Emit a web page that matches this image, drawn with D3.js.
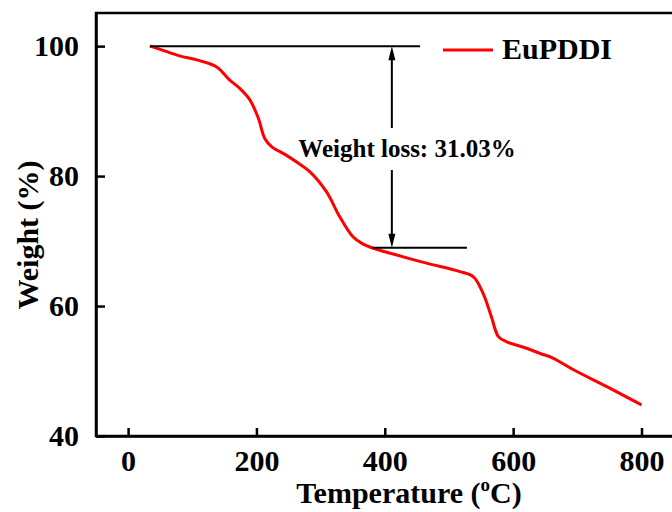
<!DOCTYPE html>
<html>
<head>
<meta charset="utf-8">
<script src="https://cdn.jsdelivr.net/npm/d3@7"></script>
<style>
  body { margin: 0; background: #fff; }
  text { font-family: "Liberation Serif", "Times New Roman", serif; font-weight: bold; }
</style>
</head>
<body>
<div class="chart"></div>
<script>
const w = 672;
const h = 512;
const margin = { top: 13, right: -8, bottom: 76, left: 96 };

// TGA curve
const temps = [34, 50, 80, 110, 138, 158, 174, 190, 203, 213, 224, 245, 265, 283, 309, 330, 350, 365,
  382, 413, 465, 517, 538, 553, 566, 577, 590, 621, 642, 662, 694, 746, 800];
const weights = [100, 99.5, 98.5, 97.8, 96.8, 94.8, 93.5, 91.7, 88.9, 85.8, 84.5, 83.3, 82.0, 80.7, 77.6,
  73.7, 70.7, 69.6, 68.9, 68.0, 66.6, 65.3, 64.5, 62.0, 58.4, 55.3, 54.5, 53.5, 52.7, 52.0, 50.2, 47.6, 44.8];

const xTicks = [0, 200, 400, 600, 800];
const yTicks = [40, 60, 80, 100];
const seriesName = 'EuPDDI';

// weight loss annotation
const lossTop = 100;
const lossBottom = 68.97;
const lossLabel = 'Weight loss: 31.03%';
const arrowTemp = 411;
const topLine = [34, 455];
const bottomLine = [381, 528];

const svg = d3.select('.chart').append('svg')
  .attr('width', w)
  .attr('height', h);

const xScale = d3.scaleLinear()
  .domain([-50, 860])
  .range([margin.left, w - margin.right]);

const yScale = d3.scaleLinear()
  .domain([40, 105.1])
  .range([h - margin.bottom, margin.top]);

// frame
svg.append('rect')
  .attr('x', margin.left)
  .attr('y', margin.top)
  .attr('width', w - margin.right - margin.left)
  .attr('height', h - margin.bottom - margin.top)
  .attr('fill', 'none')
  .attr('stroke', '#000')
  .attr('stroke-width', 2.5);

// Bottom axis
const xAxis = d3.axisBottom(xScale)
  .tickValues(xTicks)
  .tickSizeInner(-8)
  .tickSizeOuter(0)
  .tickPadding(14);
const gx = svg.append('g')
  .attr('transform', `translate(0,${h - margin.bottom})`)
  .call(xAxis);
gx.select('.domain').attr('stroke-width', 2.5);
gx.selectAll('.tick line').attr('stroke-width', 2.5);
gx.selectAll('.tick text')
  .attr('font-size', 30)
  .attr('fill', '#000')
  .attr('font-family', 'Liberation Serif')
  .attr('font-weight', 'bold');

// Left axis
const yAxis = d3.axisLeft(yScale)
  .tickValues(yTicks)
  .tickSizeInner(-9)
  .tickSizeOuter(0)
  .tickPadding(17);
const gy = svg.append('g')
  .attr('transform', `translate(${margin.left},0)`)
  .call(yAxis);
gy.select('.domain').attr('stroke-width', 2.5);
gy.selectAll('.tick line').attr('stroke-width', 2.5);
gy.selectAll('.tick text')
  .attr('font-size', 30)
  .attr('fill', '#000')
  .attr('font-family', 'Liberation Serif')
  .attr('font-weight', 'bold');

// axis titles
const xt = svg.append('text')
  .attr('x', 409)
  .attr('y', 503)
  .attr('text-anchor', 'middle')
  .attr('font-size', 30);
xt.append('tspan').text('Temperature (');
xt.append('tspan').attr('font-size', 19).attr('dy', -12).text('o');
xt.append('tspan').attr('dy', 12).text('C)');

svg.append('text')
  .attr('transform', 'translate(38,235) rotate(-90)')
  .attr('text-anchor', 'middle')
  .attr('font-size', 30)
  .text('Weight (%)');

// curve
const data = temps.map((t, i) => [t, weights[i]]);
const line = d3.line()
  .x((d) => xScale(d[0]))
  .y((d) => yScale(d[1]))
  .curve(d3.curveCatmullRom.alpha(0.5));

svg.append('path')
  .datum(data)
  .attr('d', line)
  .attr('fill', 'none')
  .attr('stroke', '#ff0000')
  .attr('stroke-width', 3)
  .attr('stroke-linejoin', 'round');

// annotation lines
svg.append('line')
  .attr('x1', xScale(topLine[0])).attr('x2', xScale(topLine[1]))
  .attr('y1', yScale(lossTop)).attr('y2', yScale(lossTop))
  .attr('stroke', '#000').attr('stroke-width', 2);
svg.append('line')
  .attr('x1', xScale(bottomLine[0])).attr('x2', xScale(bottomLine[1]))
  .attr('y1', yScale(lossBottom)).attr('y2', yScale(lossBottom))
  .attr('stroke', '#000').attr('stroke-width', 2);

const ax = xScale(arrowTemp);
const yTop = yScale(lossTop);
const yBot = yScale(lossBottom);
svg.append('line')
  .attr('x1', ax).attr('x2', ax)
  .attr('y1', yTop + 10).attr('y2', 128)
  .attr('stroke', '#000').attr('stroke-width', 2);
svg.append('line')
  .attr('x1', ax).attr('x2', ax)
  .attr('y1', 170).attr('y2', yBot - 10)
  .attr('stroke', '#000').attr('stroke-width', 2);
svg.append('path')
  .attr('d', `M${ax},${yTop}L${ax - 3.5},${yTop + 14}L${ax + 3.5},${yTop + 14}Z`)
  .attr('fill', '#000');
svg.append('path')
  .attr('d', `M${ax},${yBot}L${ax - 3.5},${yBot - 14}L${ax + 3.5},${yBot - 14}Z`)
  .attr('fill', '#000');

svg.append('text')
  .attr('x', 407)
  .attr('y', 157)
  .attr('text-anchor', 'middle')
  .attr('font-size', 25)
  .text(lossLabel);

// legend
svg.append('line')
  .attr('x1', 443).attr('x2', 493)
  .attr('y1', 50).attr('y2', 50)
  .attr('stroke', '#ff0000').attr('stroke-width', 3);
svg.append('text')
  .attr('x', 502)
  .attr('y', 59)
  .attr('font-size', 30)
  .text(seriesName);
</script>
</body>
</html>
